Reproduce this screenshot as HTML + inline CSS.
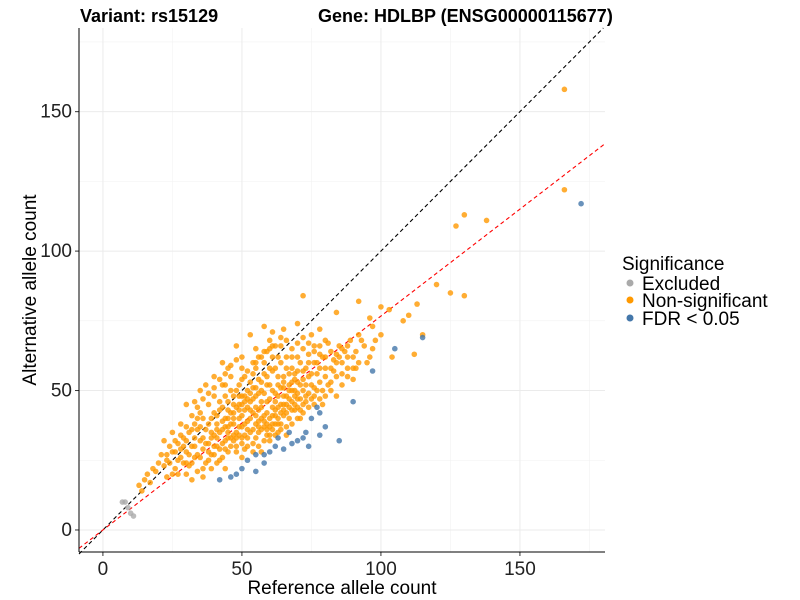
<!DOCTYPE html>
<html><head><meta charset="utf-8">
<style>
body{margin:0;background:#fff;}
svg{display:block;font-family:"Liberation Sans",Arial,sans-serif;}
</style></head>
<body>
<svg id="chart" width="800" height="600" viewBox="0 0 800 600">
<text x="80" y="22" font-size="18" font-weight="bold" fill="#000">Variant: rs15129</text>
<text x="318" y="22" font-size="18" font-weight="bold" fill="#000">Gene: HDLBP (ENSG00000115677)</text>
<g id="grid"></g>
<g id="lines"></g>
<g id="points"></g>
<g id="axes"></g>
<text x="342" y="594" font-size="19" text-anchor="middle">Reference allele count</text>
<text transform="translate(36,290) rotate(-90)" font-size="19" text-anchor="middle">Alternative allele count</text>
<g>
<text x="622" y="270" font-size="19">Significance</text>
<g><circle cx="630" cy="283" r="3.5" fill="#aaaaaa"/><text x="642" y="290" font-size="19">Excluded</text></g>
<g><circle cx="630" cy="300" r="3.5" fill="#ff9900"/><text x="642" y="307" font-size="19">Non-significant</text></g>
<g><circle cx="630" cy="318" r="3.5" fill="#4477aa"/><text x="642" y="325" font-size="19">FDR &lt; 0.05</text></g>
</g>
</svg>
<script>
const xTicks=[0,50,100,150];
const yTicks=[0,50,100,150];
const minorTicks=[25,75,125,175];
const excluded=[7,10,8,10,10,6,11,5,9,8];
const fdr=[48,20,46,19,55,21,42,18,58,27,60,28,62,30,65,29,70,32,73,35,75,40,77,44,78,42,85,32,90,46,97,57,105,65,115,69,172,117,68,31,72,33,55,27,52,25,63,33,67,35,78,34,80,37,74,30,58,24,50,22];
const nonsig=[166,158,166,122,127,109,130,113,138,111,125,85,130,84,113,81,108,75,110,77,100,80,103,79,97,73,92,70,88,66,112,63,115,70,120,88,72,84,61,71,
13,16,15,18,16,20,18,22,17,17,20,24,22,23,19,21,14,14,21,27,24,30,23,25,25,28,26,22,27,31,28,26,29,33,30,28,30,20,31,35,32,30,32,24,33,38,34,27,35,32,35,42,36,29,36,22,37,36,38,45,38,31,39,27,39,40,40,34,40,48,41,30,41,38,42,43,42,25,43,36,43,52,44,32,44,40,45,28,45,46,46,38,46,55,47,34,47,42,48,30,48,50,49,37,49,45,50,33,50,41,50,58,51,29,51,48,52,36,52,44,53,40,53,53,54,31,54,47,55,38,55,60,56,43,56,35,57,50,57,28,58,41,58,56,59,36,59,46,60,52,60,32,61,44,61,62,62,38,62,49,63,55,63,35,64,45,64,66,65,41,65,51,66,58,66,37,67,47,68,53,68,62,69,43,70,49,70,57,71,40,72,54,72,65,73,46,74,60,75,52,75,70,76,48,77,56,78,63,79,50,80,58,81,67,82,53,83,61,84,48,85,66,86,56,88,62,90,54,91,64,93,68,95,60,97,65,100,70,104,62,96,76,92,82,84,78,78,72,70,74,60,68,55,65,50,62,45,58,40,55,35,50,30,45,28,38,25,35,22,32,33,46,37,52,43,60,48,66,53,70,58,73,65,72,
40,30,42,35,44,37,45,33,46,30,47,38,48,35,49,40,50,37,51,34,52,39,53,35,54,42,55,33,56,39,57,44,58,37,59,42,60,40,61,36,62,43,63,40,64,38,65,45,66,42,67,40,68,46,69,50,70,44,71,47,38,28,36,33,34,36,33,30,31,27,29,30,27,25,26,28,24,24,23,27,45,40,47,45,50,45,52,50,55,48,57,46,59,52,61,50,63,48,65,55,67,52,69,56,71,60,73,58,44,48,42,46,40,42,38,38,36,40,34,40,32,36,30,32,28,34,46,50,49,52,51,55,54,56,56,54,58,60,60,58,62,58,64,60,66,62,68,58,70,62,72,50,74,55,76,60,78,58,80,62,48,28,50,26,52,30,54,28,56,30,58,32,60,34,62,34,64,36,66,34,68,38,70,40,72,42,74,44,76,45,78,47,80,48,82,50,84,55,86,60,88,58,90,58,92,60,94,66,96,62,98,68,39,33,41,41,43,44,45,43,47,48,49,48,51,43,53,46,55,44,57,40,59,38,61,41,63,44,65,48,67,44,69,48,37,24,35,26,33,26,31,23,29,24,27,20,25,20,23,19,39,22,41,24,43,26,44,22,
32,18,34,21,36,19,38,25,40,27,42,29,44,29,46,33,48,33,50,31,52,33,54,36,56,37,58,39,60,37,62,41,64,42,66,45,68,43,70,47,72,45,74,49,76,51,78,53,80,55,82,58,84,60,86,52,88,55,90,62,30,37,32,41,34,44,36,47,38,49,40,51,42,54,44,56,46,59,48,61,50,54,52,57,54,60,56,62,58,64,60,65,62,66,64,69,66,68,68,65,70,67,72,69,74,67,76,64,78,66,80,68,82,64,84,63,86,65,41,36,43,39,45,37,47,40,49,43,51,46,53,49,55,51,57,53,59,55,61,57,63,52,65,53,67,56,69,54,71,52,73,52,75,56,77,60,79,62,26,32,28,29,30,24,33,33,35,37,37,31,39,35,41,33,43,31,45,35,47,32,49,34,51,38,53,43,55,41,57,36,59,34,61,38,63,38,65,43,67,50,69,45,71,43,73,48,75,47,77,50,79,45,81,52,83,57,85,62,87,64,89,68,91,58,55,58,57,62,59,64,61,66,63,62,44,52,46,42,48,44,50,48,52,47,54,51,56,49,58,49,60,47,62,46,64,51,66,48,68,50,70,53,72,57,74,63,76,66];
const fitSlope=[1,0.767];
const NS='http://www.w3.org/2000/svg';
const X0=79,X1=605,Y0=28,Y1=552,XMIN=-8.6,XMAX=180.6,YMIN=-7.9,YMAX=180;
const sx=v=>X0+(v-XMIN)/(XMAX-XMIN)*(X1-X0);
const sy=v=>Y1-(v-YMIN)/(YMAX-YMIN)*(Y1-Y0);
function mk(tag,attrs,parent){const e=document.createElementNS(NS,tag);for(const k in attrs)e.setAttribute(k,attrs[k]);parent.appendChild(e);return e;}
const grid=document.getElementById('grid');
minorTicks.forEach(t=>{
 if(sx(t)<X1){const l=mk('line',{x1:sx(t),x2:sx(t),y1:Y0,y2:Y1,stroke:'#f2f2f2','stroke-width':0.6},grid);
 
 }
 if(sy(t)>Y0){const l2=mk('line',{x1:X0,x2:X1,y1:sy(t),y2:sy(t),stroke:'#f2f2f2','stroke-width':0.6},grid);
 
 }
});
const axes=document.getElementById('axes');
xTicks.forEach(t=>{
 const l=mk('line',{x1:sx(t),x2:sx(t),y1:Y0,y2:Y1,stroke:'#ebebeb','stroke-width':1},grid);
 
 
 const tk=mk('line',{x1:sx(t),x2:sx(t),y1:Y1,y2:Y1+4,stroke:'#333'},axes);
 
 
 const tx=mk('text',{x:sx(t),y:Y1+23,'font-size':19,'text-anchor':'middle',fill:'#222'},axes);
 tx.textContent=t;
 
 
});
yTicks.forEach(t=>{
 const l=mk('line',{x1:X0,x2:X1,y1:sy(t),y2:sy(t),stroke:'#ebebeb','stroke-width':1},grid);
 
 
 const tk=mk('line',{x1:X0-4,x2:X0,y1:sy(t),y2:sy(t),stroke:'#333'},axes);
 
 
 const tx=mk('text',{x:X0-7,y:sy(t)+6,'font-size':19,'text-anchor':'end',fill:'#222'},axes);
 tx.textContent=t;
 
 
});
const ax=mk('line',{x1:X0,x2:X0,y1:Y0,y2:Y1,stroke:'#000','stroke-width':1},axes);


const bx=mk('line',{x1:X0,x2:X1,y1:Y1,y2:Y1,stroke:'#000','stroke-width':1},axes);


const pts=document.getElementById('points');
function draw(arr,col,name,op){for(let i=0;i<arr.length;i+=2){const c=mk('circle',{cx:sx(arr[i]),cy:sy(arr[i+1]),r:2.8,fill:col,'fill-opacity':op},pts);
 
 }}
draw(excluded,'#aaaaaa','point-excluded',0.8);
draw(nonsig,'#ff9900','point-non-significant',0.8);
draw(fdr,'#4477aa','point-fdr',0.8);
const lines=document.getElementById('lines');
const cols=['#000','#ff0000'];const names=['identity-line','fit-line'];
fitSlope.forEach((s,i)=>{
 const xa=XMIN, xb=XMAX;
 let ya=s*xa, yb=s*xb; let xe=xb;
 if(yb>YMAX){xe=YMAX/s;yb=YMAX;}
 const l=mk('line',{x1:sx(xa),y1:sy(ya),x2:sx(xe),y2:sy(yb),stroke:cols[i],'stroke-width':1.1,'stroke-dasharray':'4,3'},lines);
 
 
});
</script>
</body></html>
